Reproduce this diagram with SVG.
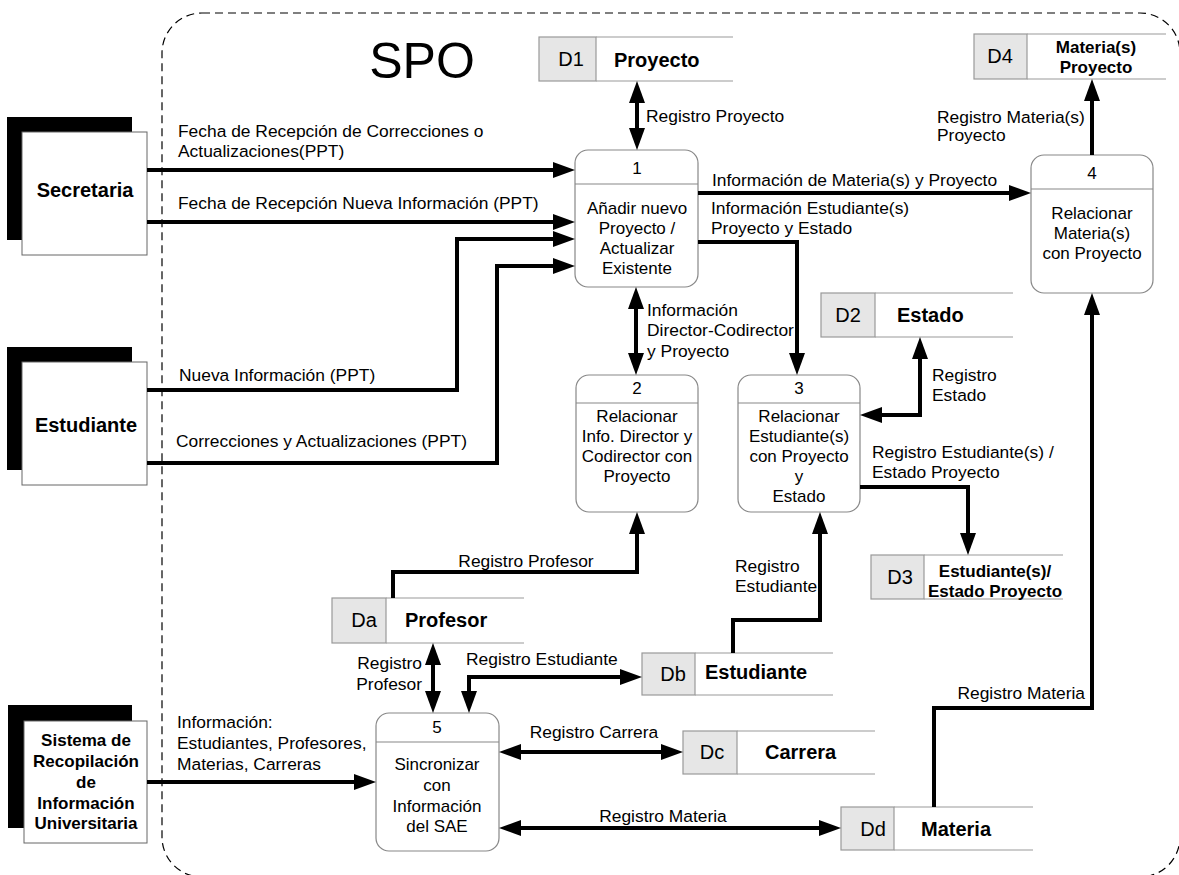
<svg xmlns="http://www.w3.org/2000/svg" width="1179" height="875" viewBox="0 0 1179 875">
  <style>
    text { font-family: "Liberation Sans", Arial, sans-serif; fill: #000; }
    .lbl { font-size: 17.4px; }
    .mid { text-anchor: middle; }
    .end { text-anchor: end; }
    .ent-shadow { fill: #000; }
    .ent-box { fill: #fff; stroke: #666; stroke-width: 1; }
    .ent-name { font-size: 20px; font-weight: bold; text-anchor: middle; }
    .ent-name-sm { font-size: 17px; font-weight: bold; text-anchor: middle; }
    .proc { fill: #fff; stroke: #888; stroke-width: 1.2; }
    .proc-div { stroke: #888; stroke-width: 1.2; }
    .proc-txt { font-size: 17px; text-anchor: middle; }
    .store-id { fill: #e6e6e6; stroke: #999; stroke-width: 1.2; }
    .store-edge { stroke: #999; stroke-width: 1.2; }
    .store-code { font-size: 20px; text-anchor: middle; }
    .store-name { font-size: 20px; font-weight: bold; }
    .store-name-sm { font-size: 17px; font-weight: bold; text-anchor: middle; }
    .flow { fill: none; stroke: #000; stroke-width: 4; }
    .flow-1 { marker-end: url(#head); }
    .flow-2 { marker-start: url(#head); marker-end: url(#head); }
    .boundary { fill: none; stroke: #000; stroke-width: 1.2; stroke-dasharray: 8 5; }
  </style>
  <defs>
    <marker id="head" markerUnits="userSpaceOnUse" markerWidth="22" markerHeight="16" refX="0" refY="8" orient="auto-start-reverse">
      <path d="M0,0 L22,8 L0,16 Z" fill="#000"/>
    </marker>
  </defs>

  <rect width="1179" height="875" fill="#fff"/>

  <!-- system boundary -->
  <rect class="boundary" x="162" y="13" width="1018" height="864" rx="40" ry="40"/>
  <text x="422" y="78" font-size="50" text-anchor="middle">SPO</text>

  <!-- external entities -->
  <g id="ent-secretaria">
    <rect class="ent-shadow" x="7" y="117" width="125" height="123"/>
    <rect class="ent-box" x="22" y="132" width="125" height="123"/>
    <text class="ent-name" x="85" y="197">Secretaria</text>
  </g>
  <g id="ent-estudiante">
    <rect class="ent-shadow" x="7" y="347" width="125" height="123"/>
    <rect class="ent-box" x="22" y="362" width="125" height="123"/>
    <text class="ent-name" x="86" y="432">Estudiante</text>
  </g>
  <g id="ent-sistema">
    <rect class="ent-shadow" x="8" y="705" width="124" height="123"/>
    <rect class="ent-box" x="24" y="721" width="123" height="122"/>
    <text class="ent-name-sm" x="86" y="746">Sistema de</text>
    <text class="ent-name-sm" x="86" y="767">Recopilación</text>
    <text class="ent-name-sm" x="86" y="788">de</text>
    <text class="ent-name-sm" x="86" y="809">Información</text>
    <text class="ent-name-sm" x="86" y="829">Universitaria</text>
  </g>

  <!-- processes -->
  <g id="proc-1">
    <rect class="proc" x="575" y="150" width="123" height="137" rx="13"/>
    <line class="proc-div" x1="575" y1="184" x2="698" y2="184"/>
    <text class="proc-txt" x="637" y="174">1</text>
    <text class="proc-txt" x="637" y="214">Añadir nuevo</text>
    <text class="proc-txt" x="637" y="234">Proyecto /</text>
    <text class="proc-txt" x="637" y="254">Actualizar</text>
    <text class="proc-txt" x="637" y="274">Existente</text>
  </g>
  <g id="proc-2">
    <rect class="proc" x="576" y="375" width="122" height="137" rx="13"/>
    <line class="proc-div" x1="576" y1="403" x2="698" y2="403"/>
    <text class="proc-txt" x="637" y="394">2</text>
    <text class="proc-txt" x="637" y="422">Relacionar</text>
    <text class="proc-txt" x="637" y="442">Info. Director y</text>
    <text class="proc-txt" x="637" y="462">Codirector con</text>
    <text class="proc-txt" x="637" y="482">Proyecto</text>
  </g>
  <g id="proc-3">
    <rect class="proc" x="738" y="375" width="122" height="137" rx="13"/>
    <line class="proc-div" x1="738" y1="403" x2="860" y2="403"/>
    <text class="proc-txt" x="799" y="394">3</text>
    <text class="proc-txt" x="799" y="422">Relacionar</text>
    <text class="proc-txt" x="799" y="442">Estudiante(s)</text>
    <text class="proc-txt" x="799" y="462">con Proyecto</text>
    <text class="proc-txt" x="799" y="482">y</text>
    <text class="proc-txt" x="799" y="502">Estado</text>
  </g>
  <g id="proc-4">
    <rect class="proc" x="1031" y="155" width="122" height="138" rx="13"/>
    <line class="proc-div" x1="1031" y1="189" x2="1153" y2="189"/>
    <text class="proc-txt" x="1092" y="179">4</text>
    <text class="proc-txt" x="1092" y="219">Relacionar</text>
    <text class="proc-txt" x="1092" y="239">Materia(s)</text>
    <text class="proc-txt" x="1092" y="259">con Proyecto</text>
  </g>
  <g id="proc-5">
    <rect class="proc" x="376" y="713" width="123" height="138" rx="13"/>
    <line class="proc-div" x1="376" y1="742" x2="499" y2="742"/>
    <text class="proc-txt" x="437" y="733">5</text>
    <text class="proc-txt" x="437" y="770">Sincronizar</text>
    <text class="proc-txt" x="437" y="791">con</text>
    <text class="proc-txt" x="437" y="812">Información</text>
    <text class="proc-txt" x="437" y="832">del SAE</text>
  </g>

  <!-- data stores -->
  <g id="store-d1">
    <rect class="store-id" x="539" y="37" width="57" height="44"/>
    <line class="store-edge" x1="596" y1="37" x2="733" y2="37"/>
    <line class="store-edge" x1="596" y1="81" x2="733" y2="81"/>
    <text class="store-code" x="571" y="66">D1</text>
    <text class="store-name" x="614" y="67">Proyecto</text>
  </g>
  <g id="store-d4">
    <rect class="store-id" x="974" y="34" width="53" height="45"/>
    <line class="store-edge" x1="1027" y1="34" x2="1166" y2="34"/>
    <line class="store-edge" x1="1027" y1="79" x2="1166" y2="79"/>
    <text class="store-code" x="1000" y="63">D4</text>
    <text class="store-name-sm" x="1096" y="53">Materia(s)</text>
    <text class="store-name-sm" x="1096" y="73">Proyecto</text>
  </g>
  <g id="store-d2">
    <rect class="store-id" x="821" y="293" width="54" height="44"/>
    <line class="store-edge" x1="875" y1="293" x2="1013" y2="293"/>
    <line class="store-edge" x1="875" y1="337" x2="1013" y2="337"/>
    <text class="store-code" x="848" y="322">D2</text>
    <text class="store-name" x="897" y="322">Estado</text>
  </g>
  <g id="store-d3">
    <rect class="store-id" x="871" y="555" width="53" height="44"/>
    <line class="store-edge" x1="924" y1="555" x2="1063" y2="555"/>
    <line class="store-edge" x1="924" y1="599" x2="1063" y2="599"/>
    <text class="store-code" x="900" y="584">D3</text>
    <text class="store-name-sm" x="995" y="577">Estudiante(s)/</text>
    <text class="store-name-sm" x="995" y="597">Estado Proyecto</text>
  </g>
  <g id="store-da">
    <rect class="store-id" x="332" y="598" width="54" height="45"/>
    <line class="store-edge" x1="386" y1="598" x2="524" y2="598"/>
    <line class="store-edge" x1="386" y1="643" x2="524" y2="643"/>
    <text class="store-code" x="364" y="627">Da</text>
    <text class="store-name" x="405" y="627">Profesor</text>
  </g>
  <g id="store-db">
    <rect class="store-id" x="642" y="653" width="53" height="42"/>
    <line class="store-edge" x1="695" y1="653" x2="833" y2="653"/>
    <line class="store-edge" x1="695" y1="695" x2="833" y2="695"/>
    <text class="store-code" x="673" y="681">Db</text>
    <text class="store-name" x="705" y="679">Estudiante</text>
  </g>
  <g id="store-dc">
    <rect class="store-id" x="683" y="731" width="54" height="43"/>
    <line class="store-edge" x1="737" y1="731" x2="875" y2="731"/>
    <line class="store-edge" x1="737" y1="774" x2="875" y2="774"/>
    <text class="store-code" x="712" y="759">Dc</text>
    <text class="store-name" x="765" y="759">Carrera</text>
  </g>
  <g id="store-dd">
    <rect class="store-id" x="841" y="807" width="53" height="43"/>
    <line class="store-edge" x1="894" y1="807" x2="1033" y2="807"/>
    <line class="store-edge" x1="894" y1="850" x2="1033" y2="850"/>
    <text class="store-code" x="873" y="836">Dd</text>
    <text class="store-name" x="921" y="836">Materia</text>
  </g>

  <!-- data flows -->
  <g id="flows">
    <path class="flow flow-1" d="M147,170 H553"/>
    <path class="flow flow-1" d="M147,222 H553"/>
    <path class="flow flow-1" d="M147,390 H457 V239 H553"/>
    <path class="flow flow-1" d="M147,463 H497 V266 H553"/>
    <path class="flow flow-2" d="M637,103 V128"/>
    <path class="flow flow-1" d="M698,193 H1009"/>
    <path class="flow flow-1" d="M698,242 H797 V353"/>
    <path class="flow flow-2" d="M636,309 V353"/>
    <path class="flow flow-1" d="M1092,155 V101"/>
    <path class="flow flow-1" d="M934,807 V708 H1092 V315"/>
    <path class="flow flow-2" d="M920,359 V415 H882"/>
    <path class="flow flow-1" d="M860,487 H968 V533"/>
    <path class="flow flow-1" d="M393,598 V572 H637 V534"/>
    <path class="flow flow-2" d="M433,665 V691"/>
    <path class="flow flow-2" d="M469,691 V677 H620"/>
    <path class="flow flow-1" d="M733,653 V620 H820 V534"/>
    <path class="flow flow-2" d="M521,752 H661"/>
    <path class="flow flow-2" d="M521,828 H819"/>
    <path class="flow flow-1" d="M147,782 H354"/>

    <text class="lbl" x="178" y="137">Fecha de Recepción de Correcciones o</text>
    <text class="lbl" x="178" y="157">Actualizaciones(PPT)</text>
    <text class="lbl" x="178" y="209">Fecha de Recepción Nueva Información (PPT)</text>
    <text class="lbl" x="179" y="381">Nueva Información (PPT)</text>
    <text class="lbl" x="176" y="447">Correcciones y Actualizaciones (PPT)</text>
    <text class="lbl" x="646" y="122">Registro Proyecto</text>
    <text class="lbl" x="712" y="186">Información de Materia(s) y Proyecto</text>
    <text class="lbl" x="711" y="214">Información Estudiante(s)</text>
    <text class="lbl" x="711" y="234">Proyecto y Estado</text>
    <text class="lbl" x="937" y="123">Registro Materia(s)</text>
    <text class="lbl" x="937" y="141">Proyecto</text>
    <text class="lbl" x="647" y="316">Información</text>
    <text class="lbl" x="647" y="336">Director-Codirector</text>
    <text class="lbl" x="647" y="357">y Proyecto</text>
    <text class="lbl" x="932" y="381">Registro</text>
    <text class="lbl" x="932" y="401">Estado</text>
    <text class="lbl" x="872" y="458">Registro Estudiante(s) /</text>
    <text class="lbl" x="872" y="478">Estado Proyecto</text>
    <text class="lbl mid" x="526" y="567">Registro Profesor</text>
    <text class="lbl" x="735" y="572">Registro</text>
    <text class="lbl" x="735" y="592">Estudiante</text>
    <text class="lbl end" x="422" y="669">Registro</text>
    <text class="lbl end" x="422" y="690">Profesor</text>
    <text class="lbl" x="466" y="665">Registro Estudiante</text>
    <text class="lbl mid" x="594" y="738">Registro Carrera</text>
    <text class="lbl mid" x="663" y="822">Registro Materia</text>
    <text class="lbl end" x="1085" y="699">Registro Materia</text>
    <text class="lbl" x="177" y="728">Información:</text>
    <text class="lbl" x="177" y="749">Estudiantes, Profesores,</text>
    <text class="lbl" x="177" y="770">Materias, Carreras</text>
  </g>
</svg>
